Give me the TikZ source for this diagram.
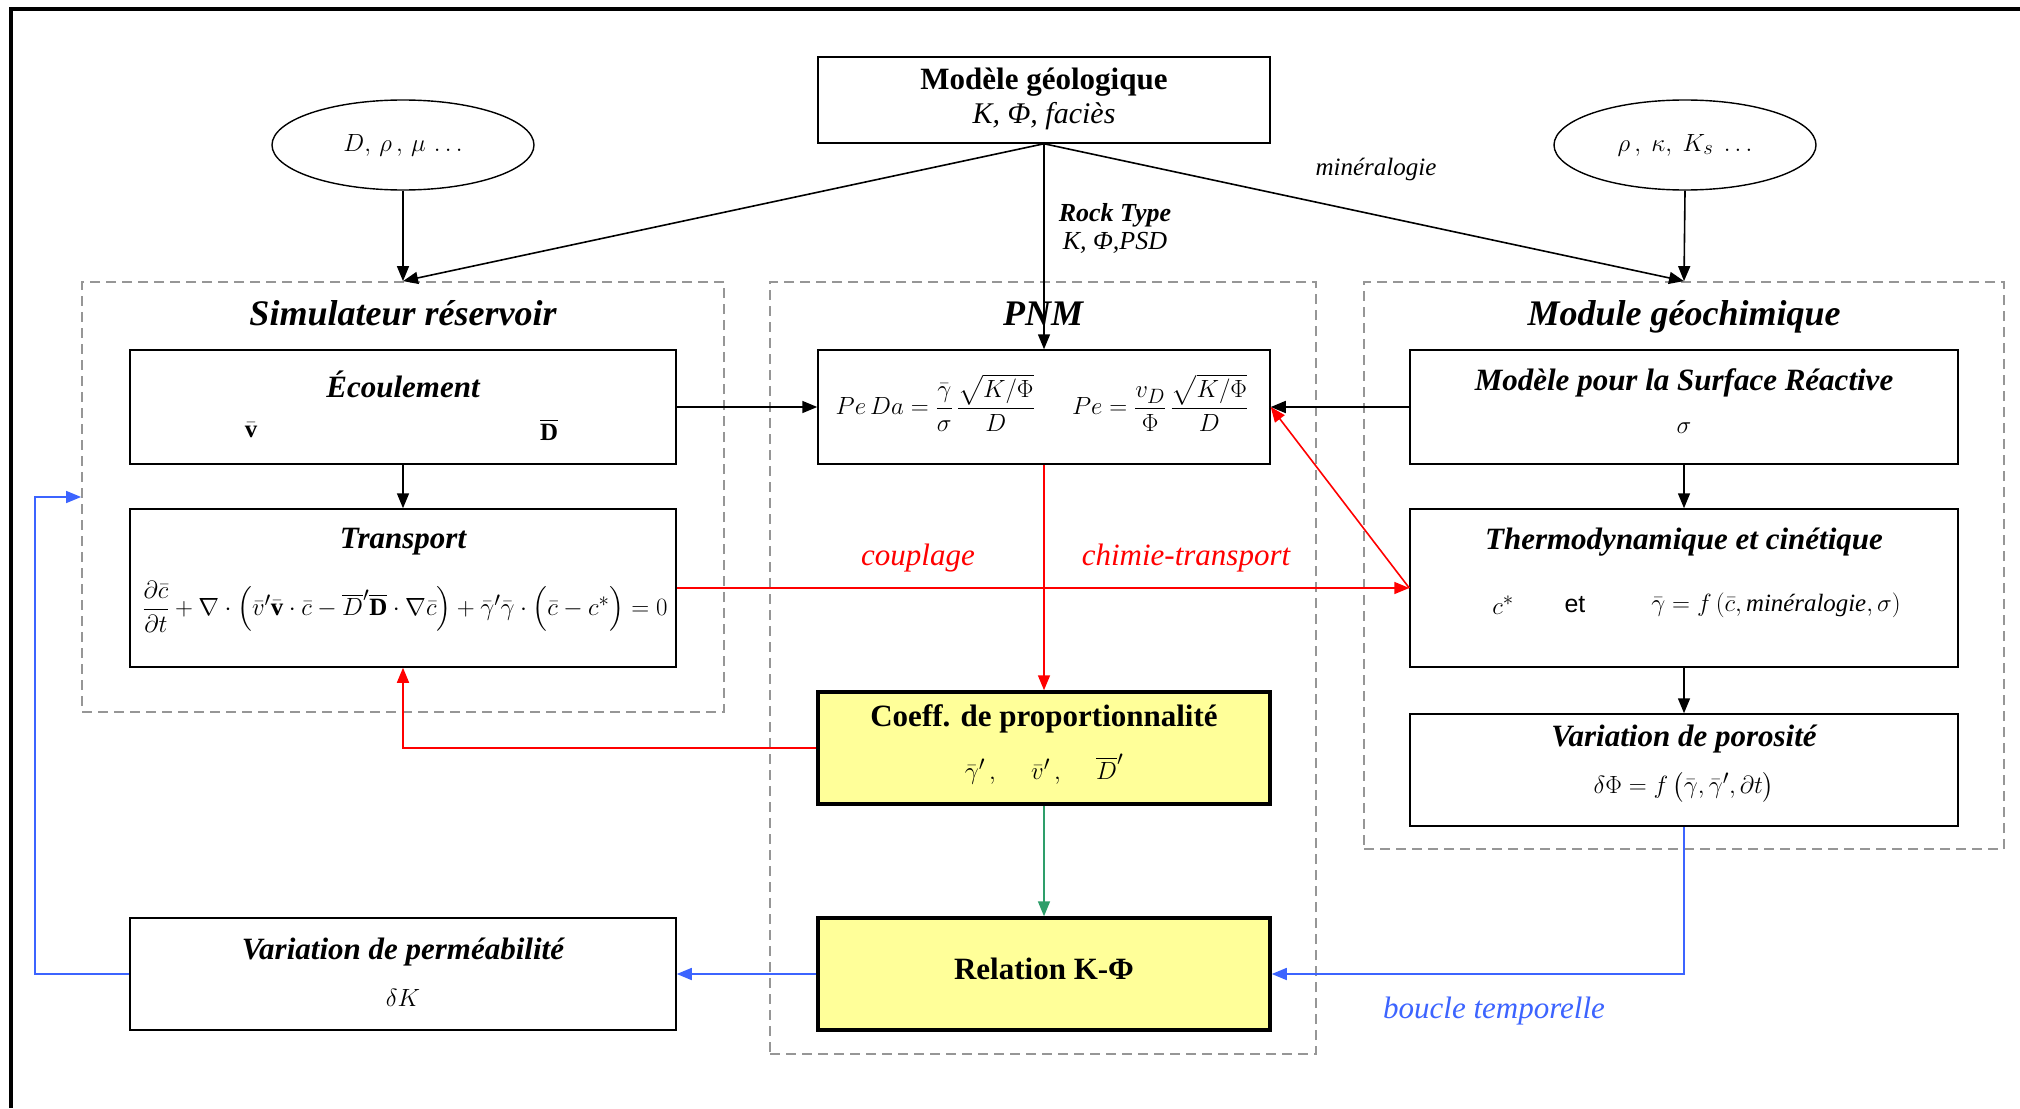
\documentclass[tikz,border=0pt]{standalone}
\usepackage{amsmath}
\usepackage{fontspec}
\setmainfont{Liberation Serif}
\newfontfamily\arialf{Liberation Sans}
\usetikzlibrary{arrows.meta,shapes.geometric}
\definecolor{bl}{RGB}{60,100,255}
\definecolor{gr}{RGB}{46,158,106}
\definecolor{yl}{RGB}{255,255,153}
\definecolor{dg}{RGB}{150,150,150}
\begin{document}
\begin{tikzpicture}[x=1pt,y=-1pt,
  box/.style={draw=black,line width=1.5pt,inner sep=0pt},
  ybox/.style={draw=black,fill=yl,line width=3.5pt,inner sep=0pt},
  grp/.style={draw=dg,dash pattern=on 10pt off 6pt,line width=1.8pt,inner sep=0pt},
  ttl/.style={font=\fontsize{31}{34}\selectfont\bfseries\itshape,inner sep=0pt},
  btl/.style={font=\fontsize{31}{34}\selectfont\bfseries,inner sep=0pt},
  gtl/.style={font=\fontsize{36}{40}\selectfont\bfseries\itshape,inner sep=0pt,anchor=base},
  mth/.style={font=\fontsize{24.88}{30}\selectfont,inner sep=0pt},
  itl/.style={font=\fontsize{30}{34}\selectfont\itshape,inner sep=0pt},
  lbl/.style={font=\fontsize{31}{34}\selectfont\itshape,inner sep=0pt},
  arr/.style={-{Triangle[length=15pt,width=12pt]},line width=1.6pt},
  ell/.style={ellipse,draw=black,line width=1.4pt,minimum width=262pt,minimum height=90pt,inner sep=0pt}
]
\useasboundingbox (0,0) rectangle (2020,1108);
\fill[white] (0,0) rectangle (2020,1108);
\draw[line width=4pt] (11,1108) -- (11,9) -- (2020,9);

% groups
\node[grp,minimum width=642pt,minimum height=430pt] (gL) at (403,497) {};
\node[grp,minimum width=546pt,minimum height=772pt] (gM) at (1043,668) {};
\node[grp,minimum width=640pt,minimum height=567pt] (gR) at (1684,565.5) {};
\node[gtl] (gLt) at (403,325) {Simulateur réservoir};
\node[gtl] (gMt) at (1043,325) {PNM};
\node[gtl] (gRt) at (1684,325) {Module géochimique};

% top
\node[box,minimum width=452pt,minimum height=86pt] (geo) at (1044,100) {};
\node[btl] (geoT) at (1044,82) {Modèle géologique};
\node[itl] (geoS) at (1044,116) {K, Φ, faciès};
\node[ell] (eL) at (403,145) {\fontsize{24.88}{30}\selectfont$D,\,\rho\,,\,\mu\,\ldots$};
\node[ell] (eR) at (1685,145) {\fontsize{24.88}{30}\selectfont$\rho\,,\ \kappa,\ K_s\ \ldots$};

% left boxes
\node[box,minimum width=546pt,minimum height=114pt] (eco) at (403,407) {};
\node[ttl] (ecoT) at (403,384) {Écoulement};
\node[mth] (ecoV) at (251,430) {$\bar{\mathbf v}$};
\node[mth] (ecoD) at (549,430) {$\overline{\mathbf D}$};
\node[box,minimum width=546pt,minimum height=158pt] (tra) at (403,588) {};
\node[ttl] (traT) at (403,542) {Transport};
\node[mth] (traE) at (405,607) {$\dfrac{\partial\bar c}{\partial t}+\nabla\cdot\Bigl(\bar v'\bar{\mathbf v}\cdot\bar c-\overline{D}'\overline{\mathbf D}\cdot\nabla\bar c\Bigr)+\bar\gamma'\bar\gamma\cdot\Bigl(\bar c-c^*\Bigr)=0$};
\node[box,minimum width=546pt,minimum height=112pt] (vk) at (403,974) {};
\node[ttl] (vkT) at (403,952) {Variation de perméabilité};
\node[mth] (vkS) at (403,998) {$\delta K$};

% middle boxes
\node[box,minimum width=452pt,minimum height=114pt] (pnm) at (1044,407) {};
\node[mth] (pnmE) at (1042,403) {$Pe\,Da=\dfrac{\bar\gamma}{\sigma}\,\dfrac{\sqrt{K/\Phi}}{D}\quad\ \ Pe=\dfrac{v_D}{\Phi}\,\dfrac{\sqrt{K/\Phi}}{D}$};
\node[ybox,minimum width=452pt,minimum height=112pt] (cof) at (1044,748) {};
\node[btl] (cofT) at (1044,719) {Coeff. de proportionnalité};
\node[mth] (cofS) at (1044,769) {$\bar\gamma'\,,\quad\ \bar v'\,,\quad\ \overline{D}'$};
\node[ybox,minimum width=452pt,minimum height=112pt] (rel) at (1044,974) {};
\node[btl] (relT) at (1044,969) {Relation K-Φ};

% right boxes
\node[box,minimum width=548pt,minimum height=114pt] (sur) at (1684,407) {};
\node[ttl] (surT) at (1684,383) {Modèle pour la Surface Réactive};
\node[mth] (surS) at (1684,428) {$\sigma$};
\node[box,minimum width=548pt,minimum height=158pt] (thm) at (1684,588) {};
\node[ttl] (thmT) at (1684,542) {Thermodynamique et cinétique};
\node[mth] (thmC) at (1503,605) {$c^*$};
\node[mth] (thmEt) at (1575,605) {\arialf et};
\node[mth] (thmF) at (1776,605) {$\bar\gamma=f\left(\bar c,\textit{minéralogie},\sigma\right)$};
\node[box,minimum width=548pt,minimum height=112pt] (por) at (1684,770) {};
\node[ttl] (porT) at (1684,739) {Variation de porosité};
\node[mth] (porS) at (1684,787) {$\delta\Phi = f\left(\bar\gamma,\bar\gamma',\partial t\right)$};

% labels
\node[font=\fontsize{26}{30}\selectfont\bfseries\itshape,inner sep=0pt] (rtA) at (1115,215) {Rock Type};
\node[font=\fontsize{26}{30}\selectfont\itshape,inner sep=0pt] (rtB) at (1115,243) {K, Φ,PSD};
\node[font=\fontsize{25}{30}\selectfont\itshape,inner sep=0pt] (min) at (1376,169) {minéralogie};
\node[lbl,text=red] (cpl) at (918,558) {couplage};
\node[lbl,text=red] (cht) at (1186,558) {chimie-transport};
\node[lbl,text=bl] (bcl) at (1494,1011) {boucle temporelle};

% black arrows
\draw[arr] (geo.south) -- (gL.north);
\draw[arr] (geo.south) -- (pnm.north);
\draw[arr] (geo.south) -- (gR.north);
\draw[arr] (eL.south) -- (gL.north);
\draw[arr] (eR.south) -- (gR.north);
\draw[arr] (eco.south) -- (tra.north);
\draw[arr] (eco.east) -- (pnm.west);
\draw[arr] (sur.west) -- (pnm.east);
\draw[arr] (sur.south) -- (thm.north);
\draw[arr] (thm.south) -- (por.north);

% red arrows
\draw[arr,red] (tra.east) -- (thm.west);
\draw[arr,red] (thm.west) -- (pnm.east);
\draw[arr,red] (pnm.south) -- (cof.north);
\draw[arr,red] (cof.west) -| (tra.south);

% green
\draw[arr,gr] (cof.south) -- (rel.north);

% blue
\coordinate (lp1) at (35,974);
\coordinate (lp2) at (35,497);
\draw[arr,bl] (por.south) |- (rel.east);
\draw[arr,bl] (rel.west) -- (vk.east);
\draw[arr,bl] (vk.west) -- (lp1) -- (lp2) -- (gL.west);
\end{tikzpicture}
\end{document}
